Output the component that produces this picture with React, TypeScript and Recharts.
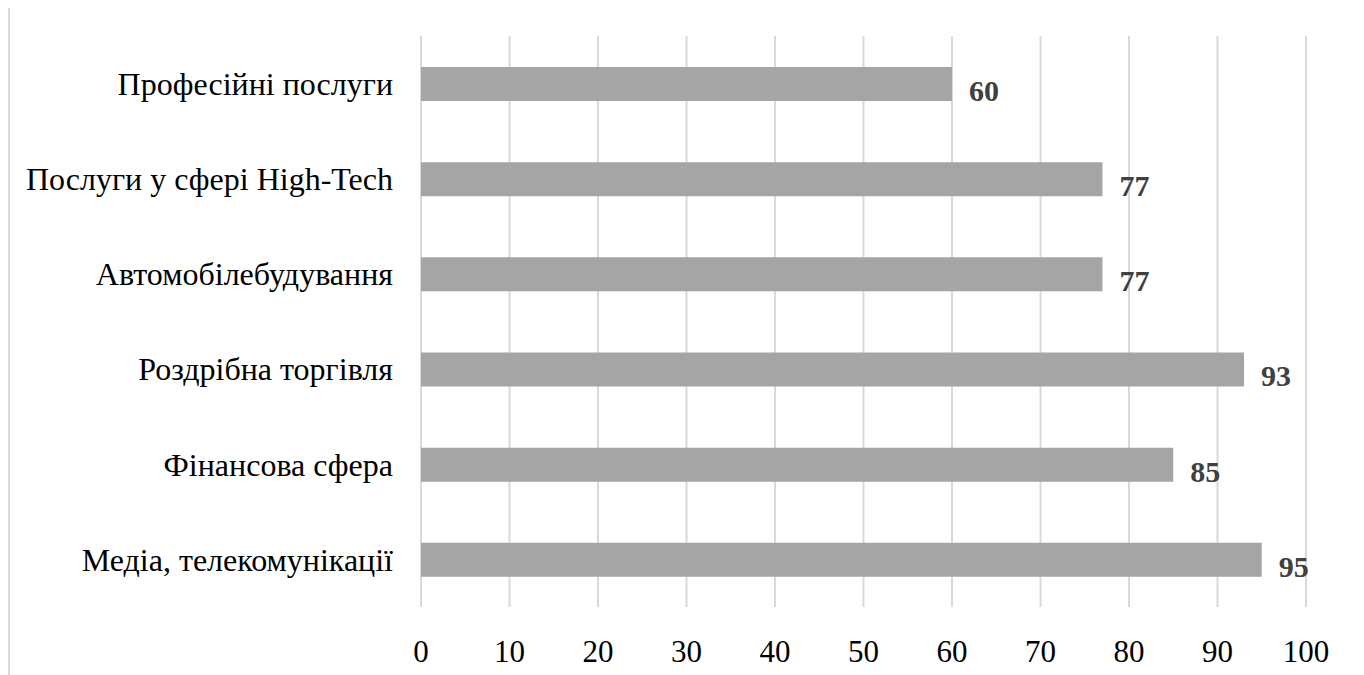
import React from 'react';
import { BarChart, Bar, XAxis, YAxis, CartesianGrid, LabelList } from 'recharts';

const categories = [
  'Професійні послуги',
  'Послуги у сфері High-Tech',
  'Автомобілебудування',
  'Роздрібна торгівля',
  'Фінансова сфера',
  'Медіа, телекомунікації',
];
const values = [60, 77, 77, 93, 85, 95];
const xTicks = [0, 10, 20, 30, 40, 50, 60, 70, 80, 90, 100];

const data = categories.map((name, i) => ({ name, value: values[i] }));

const FONT = "'Liberation Serif', 'Times New Roman', serif";

// value label sits right of the bar end, a bit below its middle
const ValueLabel = (props: any) => {
  const { x, y, width, height, value } = props;
  return (
    <text
      x={x + width + 17}
      y={y + height / 2 + 10}
      fill="#404040"
      fontWeight="bold"
      textAnchor="start"
      dominantBaseline="middle"
      style={{ fontFamily: FONT, fontSize: 30 }}
    >
      {value}
    </text>
  );
};

const App: React.FC = () => {
  return (
    <div
      style={{
        width: 1348,
        height: 700,
        borderLeft: '2px solid #d9d9d9',
        borderRight: '2px solid #d9d9d9',
        fontFamily: FONT,
      }}
    >
      <BarChart
        width={1348}
        height={700}
        data={data}
        layout="vertical"
        margin={{ top: 28, right: 52, left: 0, bottom: 41 }}
        style={{ fontFamily: FONT }}
      >
        <CartesianGrid horizontal={false} stroke="#d9d9d9" strokeWidth={2} />
        <XAxis
          type="number"
          domain={[0, 100]}
          ticks={xTicks}
          axisLine={false}
          tickLine={false}
          tickSize={0}
          tickMargin={33}
          height={60}
          tick={{ fill: '#000', fontSize: 31, style: { fontFamily: FONT } }}
        />
        <YAxis
          type="category"
          dataKey="name"
          width={411}
          axisLine={false}
          tickLine={false}
          tickSize={0}
          tickMargin={28}
          tick={{ fill: '#000', fontSize: 32, style: { fontFamily: FONT } }}
        />
        <Bar dataKey="value" fill="#a5a5a5" barSize={34} isAnimationActive={false}>
          <LabelList dataKey="value" content={ValueLabel} />
        </Bar>
      </BarChart>
    </div>
  );
};

export default App;
